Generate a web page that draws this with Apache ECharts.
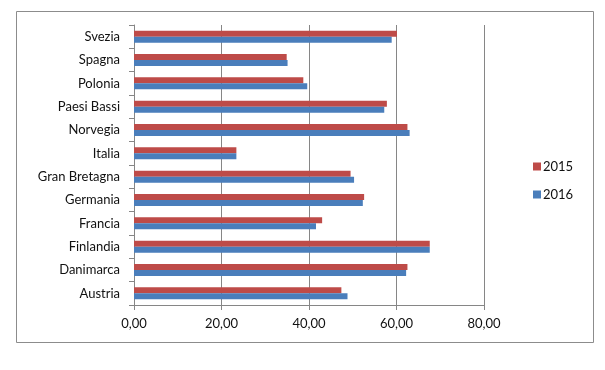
<!DOCTYPE html>
<html>
<head>
<meta charset="utf-8">
<script src="https://cdn.jsdelivr.net/npm/echarts@6/dist/echarts.min.js"></script>
<style>html,body{margin:0;padding:0;background:#fff}#c{width:605px;height:370px}</style>
</head>
<body>
<div id="c"></div>
<script>
const categories = ["Austria","Danimarca","Finlandia","Francia","Germania","Gran Bretagna","Italia","Norvegia","Paesi Bassi","Polonia","Spagna","Svezia"];
const values2015 = [47.4, 62.5, 67.6, 43.0, 52.6, 49.5, 23.4, 62.5, 57.8, 38.7, 34.9, 60.1];
const values2016 = [48.8, 62.2, 67.6, 41.6, 52.3, 50.3, 23.4, 63.0, 57.2, 39.6, 35.1, 58.9];
const xTicks = [0, 20, 40, 60, 80];

const font = 'Lato, "Open Sans", sans-serif';
const chart = echarts.init(document.getElementById('c'), null, {renderer: 'canvas'});
chart.setOption({
  animation: false,
  backgroundColor: '#fff',
  textStyle: {fontFamily: font},
  graphic: [{
    type: 'rect', shape: {x: 16.5, y: 11.5, width: 577, height: 331},
    style: {fill: 'none', stroke: '#8c8c8c', lineWidth: 1}, z: -1
  }],
  grid: {left: 134, right: 121, top: 25, bottom: 65},
  legend: {
    orient: 'vertical', left: 528, top: 155, itemWidth: 8, itemHeight: 8, itemGap: 15,
    icon: 'rect', data: ['2015', '2016'],
    textStyle: {fontFamily: font, fontSize: 13, color: '#111', padding: [0, 0, 0, -3]}
  },
  xAxis: {
    type: 'value', min: xTicks[0], max: xTicks[xTicks.length - 1], interval: 20,
    axisLine: {show: true, lineStyle: {color: '#868686'}},
    axisTick: {show: true, length: 5, lineStyle: {color: '#868686'}},
    splitLine: {show: true, lineStyle: {color: '#868686'}},
    axisLabel: {margin: 12, fontSize: 13, color: '#111', fontFamily: font,
      formatter: v => v.toFixed(2).replace('.', ',')}
  },
  yAxis: {
    type: 'category', data: categories,
    axisLine: {show: true, lineStyle: {color: '#868686'}},
    axisTick: {show: true, length: 5, lineStyle: {color: '#868686'}},
    axisLabel: {margin: 14, fontSize: 13, color: '#111', fontFamily: font}
  },
  series: [
    {name: '2015', type: 'bar', data: values2015, barWidth: 6, barGap: '0%',
      itemStyle: {color: '#be4b48'}},
    {name: '2016', type: 'bar', data: values2016, barWidth: 6, barGap: '0%',
      itemStyle: {color: '#4a7ebb'}}
  ]
});
</script>
</body>
</html>
